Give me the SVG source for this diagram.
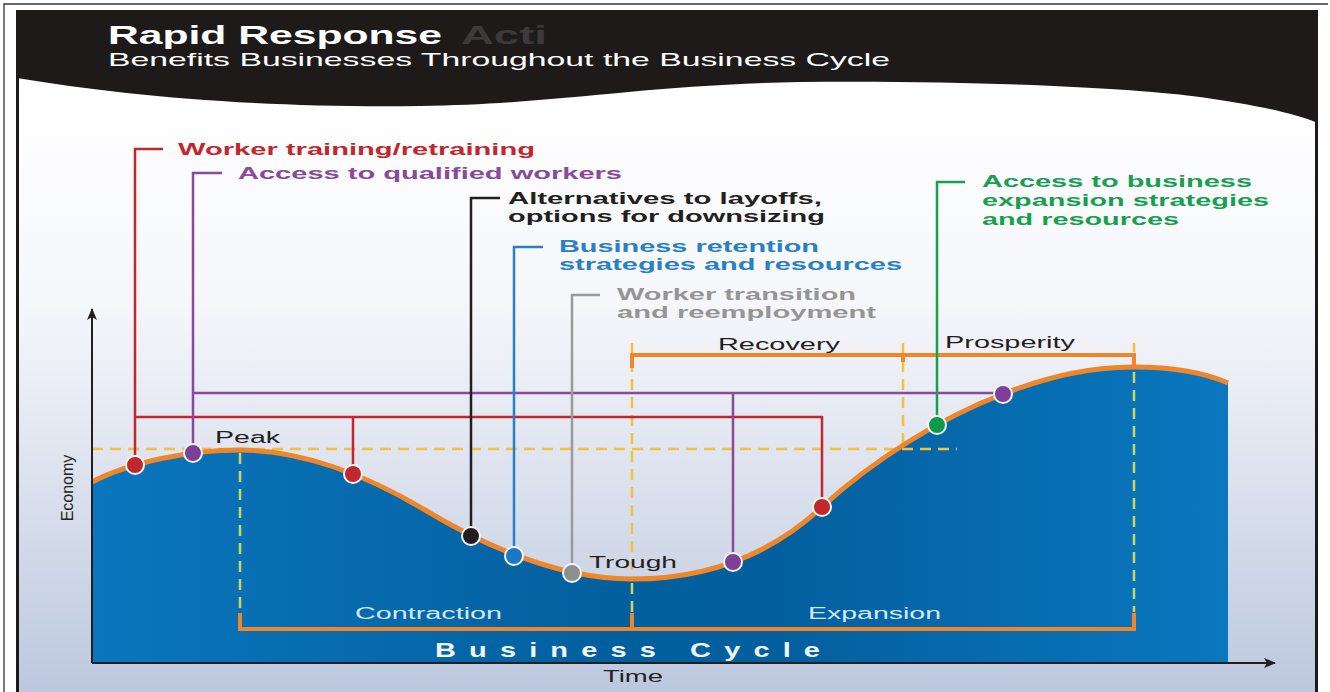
<svg xmlns="http://www.w3.org/2000/svg" width="1330" height="692" viewBox="0 0 1330 692">
<style>
text{font-family:"Liberation Sans",Arial,sans-serif}
.call{font-weight:bold;font-size:17px}
.lab{font-size:16px;fill:#231f20}
.ln{fill:none;stroke-width:2.5}
.dash{fill:none;stroke:#f3c23a;stroke-width:2.5;stroke-dasharray:11 7}
.dashb{fill:none;stroke:#cfd45a;stroke-width:2.5;stroke-dasharray:11 7}
.br{fill:none;stroke:#f0862a;stroke-width:4}
.dot{stroke:#f4f4f4;stroke-width:2}
.ax{fill:none;stroke:#231f20;stroke-width:2}
</style>
<defs>
<linearGradient id="bg" x1="0" y1="90" x2="0" y2="692" gradientUnits="userSpaceOnUse">
<stop offset="0" stop-color="#ffffff"/>
<stop offset="0.35" stop-color="#f6f7fb"/>
<stop offset="1" stop-color="#bcc8de"/>
</linearGradient>
<linearGradient id="blue" x1="92" y1="0" x2="1228" y2="0" gradientUnits="userSpaceOnUse">
<stop offset="0" stop-color="#0a76bd"/>
<stop offset="0.45" stop-color="#03609f"/>
<stop offset="0.6" stop-color="#035f9e"/>
<stop offset="1" stop-color="#0a77bf"/>
</linearGradient>
<marker id="arr" viewBox="0 0 12 10" refX="11" refY="5" markerWidth="12" markerHeight="10" markerUnits="userSpaceOnUse" orient="auto">
<path d="M0,0 L12,5 L0,10 L3,5 Z" fill="#231f20"/>
</marker>
</defs>

<!-- frame and background -->
<rect x="0" y="0" width="1330" height="692" fill="#ffffff"/>
<rect x="18" y="10" width="1298" height="682" fill="url(#bg)"/>
<path d="M4,692 V4 H1328" fill="none" stroke="#333" stroke-width="1.3"/>
<path d="M17.5,10 V692 M1316.5,10 V692" fill="none" stroke="#1e1a19" stroke-width="3"/>
<path d="M17,10 H1318 V123 C1290,112 1250,104 1200,97 C1150,90 1000,80 800,82 C640,85 560,104 420,106 C250,108 120,95 17,78 Z" fill="#1e1a19"/>

<g id="title">
<text x="108" y="44" font-size="26" font-weight="bold" fill="#ffffff" textLength="334" lengthAdjust="spacingAndGlyphs">Rapid Response</text>
<text x="461" y="44" font-size="26" font-weight="bold" fill="#3c3a3a" textLength="86" lengthAdjust="spacingAndGlyphs">Acti</text>
<text x="108" y="66" font-size="19" fill="#ffffff" textLength="782" lengthAdjust="spacingAndGlyphs">Benefits Businesses Throughout the Business Cycle</text>
</g>

<!-- economy area -->
<g id="economy-area">
<path d="M92,482 C130,462 190,450 240,450 C300,450 365,474 425,510 C485,546 560,579 632,579 C700,579 765,560 822,507 C872,461 940,418 1003,394 C1050,376 1090,367 1134,367 C1175,367 1205,373 1228,383 L1228,663 L92,663 Z" fill="url(#blue)"/>
</g>

<!-- yellow dashed guides -->
<g id="guides">
<path class="dash" d="M92,449 H957"/>
<path class="dashb" d="M240,453 V612"/>
<path class="dash" d="M632,343 V579"/>
<path class="dashb" d="M632,583 V612"/>
<path class="dash" d="M903,343 V448"/>
<path class="dash" d="M1134,343 V352"/>
<path class="dashb" d="M1134,372 V612"/>
</g>

<g id="curve">
<path d="M92,482 C130,462 190,450 240,450 C300,450 365,474 425,510 C485,546 560,579 632,579 C700,579 765,560 822,507 C872,461 940,418 1003,394 C1050,376 1090,367 1134,367 C1175,367 1205,373 1228,383" fill="none" stroke="#f0862a" stroke-width="5"/>
</g>

<!-- phase brackets -->
<g id="brackets">
<path class="br" d="M632,368 V355 H1134 V368 M903,355 V362"/>
<path class="br" d="M240,613 V629 H1134 V613 M632,629 V613"/>
</g>

<!-- axes -->
<g id="axes">
<path class="ax" d="M92,663 V309" marker-end="url(#arr)"/>
<path class="ax" d="M92,663 H1275" marker-end="url(#arr)"/>
</g>

<!-- connectors -->
<g id="connectors">
<path class="ln" stroke="#c1272d" d="M163,149 H135 V465 M135,417 H822 V507 M353,417 V474"/>
<path class="ln" stroke="#8a4a9c" d="M222,173 H193 V453 M193,393 H1003 M733,393 V562"/>
<path class="ln" stroke="#231f20" d="M500,198 H471 V536"/>
<path class="ln" stroke="#2a80c6" d="M543,247 H514 V556"/>
<path class="ln" stroke="#9a9a9a" d="M600,295 H572 V573"/>
<path class="ln" stroke="#17a050" d="M965,182 H937 V425"/>
</g>

<!-- dots -->
<g id="dots">
<circle class="dot" cx="135" cy="465" r="9" fill="#c1272d"/>
<circle class="dot" cx="193" cy="453" r="9" fill="#7d3f98"/>
<circle class="dot" cx="353" cy="474" r="9" fill="#c1272d"/>
<circle class="dot" cx="471" cy="536" r="9" fill="#231f20"/>
<circle class="dot" cx="514" cy="556" r="9" fill="#1c78c4"/>
<circle class="dot" cx="572" cy="573" r="9" fill="#8e8e8e"/>
<circle class="dot" cx="733" cy="562" r="9" fill="#7d3f98"/>
<circle class="dot" cx="822" cy="507" r="9" fill="#c1272d"/>
<circle class="dot" cx="937" cy="425" r="9" fill="#0f9a48"/>
<circle class="dot" cx="1003" cy="394" r="9" fill="#7d3f98"/>
</g>

<!-- callouts -->
<g id="worker-training">
<text class="call" x="178" y="155" fill="#c1272d" textLength="357" lengthAdjust="spacingAndGlyphs">Worker training/retraining</text>
</g>
<g id="qualified-workers">
<text class="call" x="238" y="179" fill="#8a4a9c" textLength="384" lengthAdjust="spacingAndGlyphs">Access to qualified workers</text>
</g>
<g id="alternatives">
<text class="call" x="508" y="204" fill="#231f20" textLength="314" lengthAdjust="spacingAndGlyphs">Alternatives to layoffs,</text>
<text class="call" x="508" y="222" fill="#231f20" textLength="317" lengthAdjust="spacingAndGlyphs">options for downsizing</text>
</g>
<g id="retention">
<text class="call" x="559" y="252" fill="#2a80c6" textLength="260" lengthAdjust="spacingAndGlyphs">Business retention</text>
<text class="call" x="559" y="270" fill="#2a80c6" textLength="343" lengthAdjust="spacingAndGlyphs">strategies and resources</text>
</g>
<g id="transition">
<text class="call" x="617" y="300" fill="#959595" textLength="239" lengthAdjust="spacingAndGlyphs">Worker transition</text>
<text class="call" x="617" y="318" fill="#959595" textLength="259" lengthAdjust="spacingAndGlyphs">and reemployment</text>
</g>
<g id="expansion-resources">
<text class="call" x="982" y="187" fill="#17a050" textLength="270" lengthAdjust="spacingAndGlyphs">Access to business</text>
<text class="call" x="982" y="206" fill="#17a050" textLength="287" lengthAdjust="spacingAndGlyphs">expansion strategies</text>
<text class="call" x="982" y="225" fill="#17a050" textLength="197" lengthAdjust="spacingAndGlyphs">and resources</text>
</g>

<!-- phase labels -->
<g id="phase-labels">
<text class="lab" x="215" y="443" textLength="65" lengthAdjust="spacingAndGlyphs">Peak</text>
<text class="lab" x="589" y="568" textLength="88" lengthAdjust="spacingAndGlyphs">Trough</text>
<text class="lab" x="718" y="350" textLength="122" lengthAdjust="spacingAndGlyphs">Recovery</text>
<text class="lab" x="945" y="348" textLength="130" lengthAdjust="spacingAndGlyphs">Prosperity</text>
<text x="355" y="619" font-size="16" fill="#d5e7f5" textLength="147" lengthAdjust="spacingAndGlyphs">Contraction</text>
<text x="808" y="619" font-size="16" fill="#d5e7f5" textLength="133" lengthAdjust="spacingAndGlyphs">Expansion</text>
<text transform="scale(1.45,1)" x="300" y="657" font-size="20" font-weight="bold" fill="#f2f6fa" textLength="265.5" lengthAdjust="spacing">Business Cycle</text>
</g>

<g id="axis-labels">
<text class="lab" transform="translate(73,488) rotate(-90)" text-anchor="middle">Economy</text>
<text class="lab" x="603" y="682" textLength="60" lengthAdjust="spacingAndGlyphs">Time</text>
</g>
</svg>
